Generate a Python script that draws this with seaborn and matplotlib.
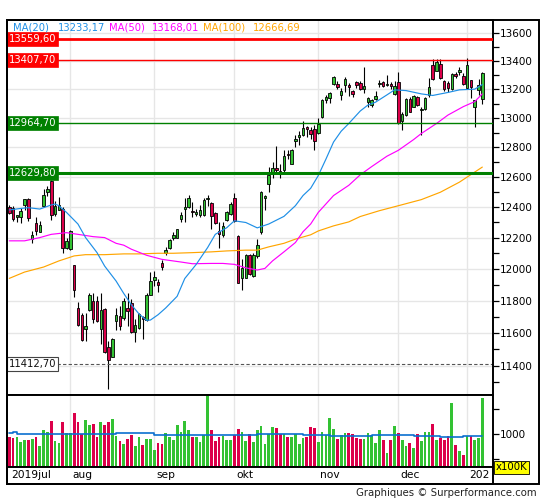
import numpy as np
import pandas as pd
import matplotlib
matplotlib.use("Agg")
import matplotlib.pyplot as plt
import seaborn as sns
from matplotlib.ticker import FixedLocator, NullFormatter, FuncFormatter, NullLocator
from matplotlib.patches import Rectangle

sns.set_theme(style="white")
plt.rcParams['font.family'] = ['DejaVu Sans']

# ---------------- data ----------------
opens = [12403,12392,12339,12333,12415,12452,12192,12296,12239,12410,
         12499,12572,12355,12384,12388,12138,12127,12024,11755,11709,
         11624,11745,11801,11797,11624,11751,11517,11455,11672,11707,
         11692,11755,11787,11609,11630,11696,11678,11839,11929,11917,
         12039,12105,12138,12202,12202,12326,12386,12401,12375,12355,
         12348,12348,12455,12425,12362,12245,12217,12315,12355,12461,
         12213,11945,11945,12088,11956,12082,12235,12459,12555,12628,
         12660,12640,12644,12755,12690,12846,12872,12883,12940,12917,
         12924,12899,13005,13122,13138,13239,13239,13157,13228,13232,
         13190,13251,13243,13205,13114,13091,13133,13238,13248,13230,
         13239,13168,13250,12981,13021,13133,13079,13149,13055,13063,
         13157,13372,13332,13379,13255,13243,13204,13309,13325,13290,
         13208,13262,13075,13195,13130]
highs = [12415,12410,12352,12392,12457,12461,12245,12333,12311,12521,
         12543,12577,12443,12465,12399,12202,12249,12028,11791,11724,
         11724,11850,11846,11828,11850,11755,11548,11568,11755,11766,
         11818,11850,11812,11686,11724,11707,11846,11981,11987,11934,
         12058,12142,12196,12239,12260,12370,12461,12481,12432,12388,
         12415,12459,12481,12432,12366,12304,12304,12373,12432,12494,
         12219,12062,12095,12095,12105,12192,12506,12481,12666,12700,
         12810,12690,12780,12780,12791,12883,12908,12979,12947,12940,
         12951,12998,13131,13162,13180,13290,13256,13208,13283,13244,
         13197,13258,13255,13360,13149,13131,13185,13262,13255,13302,
         13250,13255,13325,13044,13138,13149,13161,13154,13075,13149,
         13279,13414,13414,13414,13267,13255,13314,13325,13360,13314,
         13419,13267,13126,13270,13325]
lows = [12355,12311,12300,12296,12382,12311,12166,12219,12235,12399,
        12477,12317,12344,12382,12105,12131,12123,11824,11645,11554,
        11548,11734,11661,11666,11534,11480,11258,11451,11616,11616,
        11682,11645,11599,11544,11626,11562,11672,11834,11892,11854,
        11992,12088,12131,12184,12198,12300,12300,12397,12333,12344,
        12339,12344,12410,12255,12292,12133,12208,12311,12348,12306,
        11909,11866,11941,11962,11950,12069,12228,12379,12499,12592,
        12620,12592,12637,12719,12685,12802,12818,12876,12872,12857,
        12780,12894,12998,13104,13104,13232,13203,13127,13178,13150,
        13143,13210,13196,13173,13079,13075,13126,13215,13215,13220,
        13205,13157,12959,12917,13012,13040,13075,13084,12882,13056,
        13149,13267,13328,13272,13185,13178,13197,13279,13302,13232,
        13201,13138,12936,13160,13100]
closes = [12364,12326,12346,12375,12452,12329,12219,12245,12285,12481,
          12521,12350,12410,12415,12138,12181,12245,11866,11651,11558,
          11645,11839,11686,11672,11745,11486,11435,11562,11709,11645,
          11797,11738,11605,11651,11718,11688,11834,11927,11949,11900,
          12015,12121,12184,12219,12255,12350,12403,12463,12368,12366,
          12384,12450,12463,12341,12296,12223,12274,12366,12421,12311,
          11913,12004,12088,11966,12088,12155,12499,12477,12615,12662,
          12648,12625,12739,12745,12785,12857,12883,12933,12924,12894,
          12846,12957,13127,13143,13173,13283,13216,13190,13274,13216,
          13167,13227,13203,13220,13142,13126,13154,13245,13220,13240,
          13220,13220,12963,13028,13133,13044,13154,13091,13065,13142,
          13215,13272,13391,13279,13204,13208,13309,13290,13333,13236,
          13372,13215,13122,13228,13315]
volumes = [952,918,952,852,892,892,912,952,772,1072,
           1052,1252,872,832,1232,1032,1018,1412,1232,1005,
           1272,1172,1192,952,1232,1172,1232,1292,972,872,
           812,912,992,772,952,792,912,912,692,832,
           812,1032,952,892,1172,1052,1252,1072,952,952,
           852,992,1850,1072,872,952,972,892,892,992,
           1092,1052,
           872,1012,852,1072,1152,812,1012,1132,1112,1012,
           1012,952,952,1012,812,932,952,1132,1112,852,
           1052,992,1312,1092,912,992,1032,1032,1012,932,
           912,912,1032,992,832,1072,892,632,892,1152,
           1032,892,772,832,
           732,1012,872,1052,1052,1192,892,932,892,972,
           1612,792,672,592,972,972,892,932,1712]

month_labels = ["2019jul", "aug", "sep", "okt", "nov", "dec", "202"]
month_starts = [0, 16, 38, 59, 81, 102, 120]

ma20_idx = [0,3,5,8,11,12,13,15,18,20,23,25,28,30,32,34,36,37,39,41,44,46,49,52,54,57,59,62,65,68,
            72,75,77,79,81,83,85,87,89,92,94,96,99,101,104,108,111,115,118,122,124]
ma20_val = [12382,12392,12397,12388,12415,12421,12410,12366,12290,12202,12105,12019,11924,11846,11775,
            11718,11678,11680,11713,11755,11828,11940,12030,12138,12223,12266,12311,12300,12265,12290,
            12340,12410,12477,12525,12610,12720,12836,12910,12963,13049,13090,13110,13161,13196,13191,
            13168,13157,13178,13196,13201,13233.17]
ma50_idx = [0,4,8,11,15,18,22,25,28,30,32,36,40,45,48,53,56,59,62,65,67,69,72,75,77,79,81,85,89,92,
            95,99,102,106,108,112,115,119,122,124]
ma50_val = [12181,12181,12202,12223,12234,12223,12208,12202,12165,12153,12127,12088,12062,12045,12034,
            12036,12036,12030,12008,11994,12004,12052,12110,12170,12240,12290,12366,12477,12545,12615,
            12670,12740,12780,12853,12894,12963,13021,13079,13114,13168.01]
ma100_idx = [0,4,9,13,17,20,25,30,34,39,43,48,53,57,62,65,68,72,75,79,81,85,89,92,97,102,108,113,118,124]
ma100_val = [11941,11981,12013,12052,12084,12092,12092,12097,12097,12101,12101,12105,12110,12116,12121,
             12121,12142,12165,12192,12220,12245,12278,12304,12339,12377,12410,12450,12499,12566,12666.69]
vma_idx = [0,1,2,28,38,42,65,77,84,95,106,113,119,124]
vma_val = [1018,1038,1005,1018,985,992,1012,992,972,992,965,945,955,960]

levels = [13559.60, 13407.70, 12964.70, 12629.80, 11412.70]
level_labels = ["13559,60", "13407,70", "12964,70", "12629,80", "11412,70"]
level_colors = ["#ff0000", "#ff0000", "#008000", "#008000", "#555555"]
level_widths = [2.0, 1.0, 1.0, 2.2, 0.8]

ma_names = ["MA(20)", "MA(50)", "MA(100)"]
ma_last = ["13233,17", "13168,01", "12666,69"]

# ---------------- styling ----------------
C20, C50, C100 = "#1e8fe6", "#ff00ff", "#ffa500"
GREEN, RED = "#33c233", "#dc004a"
GRID = "#e6e6e6"

W, H = 545, 500
fig = plt.figure(figsize=(W / 100, H / 100), dpi=100)
fx = lambda px: px / W
fy = lambda py: 1 - py / H

L, R = 7, 493
ax = fig.add_axes([fx(L), fy(395), fx(R) - fx(L), fy(20) - fy(395)])
axv = fig.add_axes([fx(L), fy(467), fx(R) - fx(L), fy(395) - fy(467)], sharex=ax)
axl = fig.add_axes([fx(L), fy(484), fx(R) - fx(L), fy(467) - fy(484)], sharex=ax)

n = len(closes)
x = np.arange(n)
o = np.array(opens, float); c = np.array(closes, float)
hi = np.array(highs, float); lo = np.array(lows, float)
up = c >= o
cols = np.where(up, GREEN, RED)

ax.set_yscale('log')
ax.set_xlim(-0.6, 126.8)
ax.set_ylim(11225, 13694)

# grid
for m in month_starts[1:]:
    ax.axvline(m, color=GRID, lw=1, zorder=0)
    axv.axvline(m, color=GRID, lw=1, zorder=0)
for t in range(11400, 13601, 200):
    ax.axhline(t, color=GRID, lw=1, zorder=0)

# candles
ax.vlines(x, lo, hi, color='black', lw=0.8, zorder=2)
body_h = np.maximum(np.abs(c - o), 0.5)
ax.bar(x, body_h, bottom=np.minimum(o, c), width=0.66, color=cols,
       edgecolor='black', linewidth=0.6, zorder=3)

# moving averages via seaborn
for idx, val, col in [(ma100_idx, ma100_val, C100), (ma50_idx, ma50_val, C50), (ma20_idx, ma20_val, C20)]:
    df = pd.DataFrame({'i': idx, 'v': val})
    sns.lineplot(data=df, x='i', y='v', ax=ax, color=col, lw=0.85, legend=False, zorder=4)

# horizontal levels with labels
for lv, lab, col, lw in zip(levels, level_labels, level_colors, level_widths):
    if lab == "11412,70":
        ax.axhline(lv, color=col, lw=lw, ls=(0, (3, 2)), zorder=2.5)
        ax.text(0.004, lv, lab, transform=ax.get_yaxis_transform(), ha='left', va='center',
                fontsize=7.2, color='#111111', zorder=6,
                bbox=dict(boxstyle='square,pad=0.2', fc='white', ec='#444444', lw=0.8))
    else:
        ax.axhline(lv, color=col, lw=lw, zorder=4.5)
        ax.text(0.004, lv, lab, transform=ax.get_yaxis_transform(), ha='left', va='center',
                fontsize=7.2, color='white', zorder=6,
                bbox=dict(boxstyle='square,pad=0.2', fc=col, ec=col, lw=0.5))

# y axis (right)
ax.yaxis.tick_right()
ax.yaxis.set_major_locator(FixedLocator(list(range(11400, 13601, 200))))
ax.yaxis.set_major_formatter(FuncFormatter(lambda v, p: f"{int(round(v))}"))
ax.yaxis.set_minor_locator(FixedLocator(list(range(11300, 13701, 200))))
ax.yaxis.set_minor_formatter(NullFormatter())
ax.tick_params(axis='y', which='major', length=4, width=0.9, labelsize=7.5, pad=1,
               color='black', labelcolor='black', right=True, left=False)
ax.tick_params(axis='y', which='minor', length=4, width=0.9, color='black', right=True, left=False)
ax.tick_params(axis='x', which='both', bottom=False, labelbottom=False)
ax.set_xlabel(""); ax.set_ylabel("")

# volume
vcols = cols
axv.bar(x, volumes, width=0.72, color=vcols, linewidth=0, zorder=2)
dfv = pd.DataFrame({'i': vma_idx, 'v': vma_val})
sns.lineplot(data=dfv, x='i', y='v', ax=axv, color='#0b6fd0', lw=1.2, drawstyle='steps-post',
             legend=False, zorder=3)
axv.set_ylim(352, 1772)
axv.yaxis.tick_right()
axv.yaxis.set_major_locator(FixedLocator([1000]))
axv.yaxis.set_major_formatter(FuncFormatter(lambda v, p: f"{int(v)}"))
axv.yaxis.set_minor_locator(FixedLocator([500, 1500]))
axv.yaxis.set_minor_formatter(NullFormatter())
axv.tick_params(axis='y', which='major', length=4, width=0.9, labelsize=7.5, pad=1,
                color='black', labelcolor='black', right=True, left=False)
axv.tick_params(axis='y', which='minor', length=4, width=0.9, color='black', right=True, left=False)
axv.tick_params(axis='x', which='both', bottom=False, labelbottom=False)
axv.set_xlabel(""); axv.set_ylabel("")

# x label strip
axl.set_ylim(0, 1)
axl.tick_params(axis='both', which='both', bottom=False, left=False, right=False,
                labelbottom=False, labelleft=False)
axl.yaxis.set_major_locator(NullLocator())
for m, lab in zip(month_starts, month_labels):
    xpos = m + 0.45 if m > 0 else 0.45
    axl.text(xpos, 0.5, lab, ha='left', va='center', fontsize=7.7, color='black', clip_on=True)

for a in (ax, axv, axl):
    for s in a.spines.values():
        s.set_color('black'); s.set_linewidth(1.4)
    a.set_facecolor('white')

# outer frame
fig.add_artist(Rectangle((fx(7), fy(484)), fx(539) - fx(7), fy(20) - fy(484),
                         transform=fig.transFigure, fill=False, ec='black', lw=1.4))

# legend-like header text
xs = [13, 58, 109, 152, 203, 253]
texts = [ma_names[0], ma_last[0], ma_names[1], ma_last[1], ma_names[2], ma_last[2]]
tcols = [C20, C20, C50, C50, C100, C100]
for xp, t, tc in zip(xs, texts, tcols):
    fig.text(fx(xp), fy(27.5), t, color=tc, fontsize=7.2, ha='left', va='center')

# x100K badge
fig.text(fx(496), fy(467.5), "x100K", fontsize=7.3, color='black', ha='left', va='center',
         bbox=dict(boxstyle='square,pad=0.15', fc='#ffff00', ec='black', lw=0.6))

# copyright
fig.text(fx(537), fy(492.5), "Graphiques \u00a9 Surperformance.com", fontsize=7.3,
         color='#222222', ha='right', va='center')

fig.savefig("out.png", dpi=100, facecolor='white')
